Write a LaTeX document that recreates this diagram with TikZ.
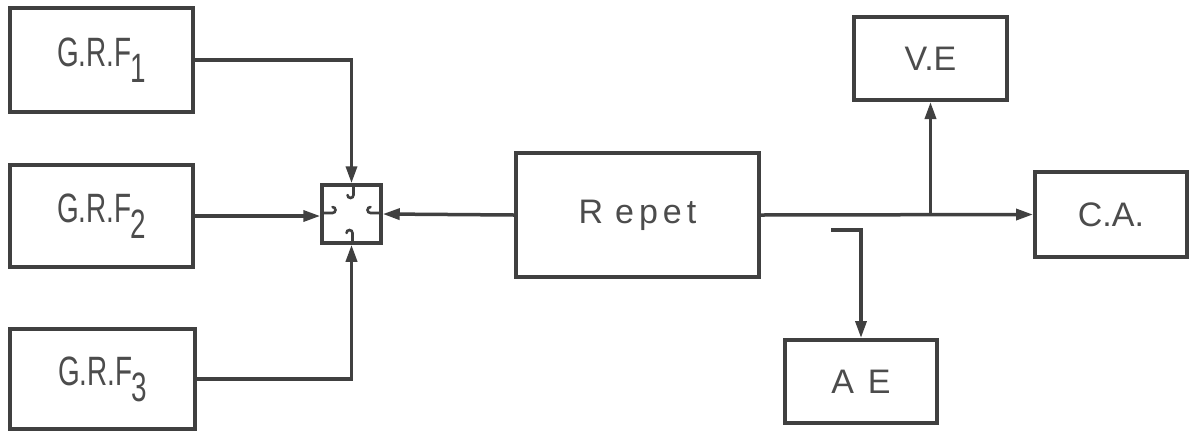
\documentclass[tikz,border=0pt]{standalone}
\usepackage{fontspec}
\setmainfont{Liberation Sans}
\newfontfamily\grffont{Liberation Sans}[FakeStretch=0.68]
\usetikzlibrary{arrows.meta,calc}
\begin{document}
\begin{tikzpicture}[x=1pt,y=-1pt,
  blk/.style={draw=black!75,line width=4pt,rectangle,inner sep=0pt,text=black!70},
  conn/.style={draw=black!75,line width=3.5pt},
  arr/.style={conn,-{Triangle[length=17pt,width=11pt]}},
  hook/.style={draw=black!75,line width=2.6pt,line cap=round},
  big/.style={font=\grffont\fontsize{41}{41}\selectfont},
  mid/.style={font=\fontsize{34}{34}\selectfont}]
\useasboundingbox[fill=white] (0,0) rectangle (1189,432);
% blocks
\node[blk,big,minimum width=183pt,minimum height=104pt] (g1) at (101.5,60) {G.R.F\kern-1pt\raisebox{-16pt}{1}};
\node[blk,big,minimum width=183pt,minimum height=102pt] (g2) at (101.5,216) {G.R.F\kern-1pt\raisebox{-16pt}{2}};
\node[blk,big,minimum width=185pt,minimum height=100pt] (g3) at (102.5,379) {G.R.F\kern-1pt\raisebox{-16pt}{3}};
\node[blk,minimum width=59pt,minimum height=58pt,line width=3.5pt] (sw) at (351.5,214) {};
\node[blk,mid,minimum width=243pt,minimum height=124pt] (rep) at (637.5,215) {R\hspace{12pt}e\hspace{5pt}p\hspace{5pt}e\hspace{5pt}t};
\node[blk,mid,minimum width=153pt,minimum height=83pt] (ve) at (930.5,58.5) {V.E};
\node[blk,mid,minimum width=152pt,minimum height=85pt] (ca) at (1111,214.5) {C.A.};
\node[blk,mid,minimum width=152pt,minimum height=83pt] (ae) at (861,381.5) {A\kern14pt E};
% connectors
\draw[arr] (g1.east) -| (sw.north);
\draw[arr] (g2.east) -- (g2.east -| sw.west);
\draw[arr] (g3.east) -| (sw.south);
\draw[arr] (rep.west) -- (sw.east);
\draw[arr] (rep.east) -- (ca.west);
\coordinate (jn) at (rep.east -| ve.south);
\draw[arr] (jn) -- (ve.south);
\coordinate (hk) at (831,230);
\draw[arr] (hk) -- (hk -| ae.north) -- (ae.north);
% switch contacts
\begin{scope}[shift={(sw.center)}]
  \draw[hook] (2,-29) -- (2,-19) arc[start angle=0,end angle=180,radius=3];
  \draw[hook] (-29,-1) -- (-19,-1) arc[start angle=90,end angle=-90,radius=3];
  \draw[hook] (29,-1) -- (19,-1) arc[start angle=90,end angle=270,radius=3];
  \draw[hook] (1,29) -- (1,19) arc[start angle=0,end angle=-180,radius=3];
\end{scope}
\end{tikzpicture}
\end{document}
